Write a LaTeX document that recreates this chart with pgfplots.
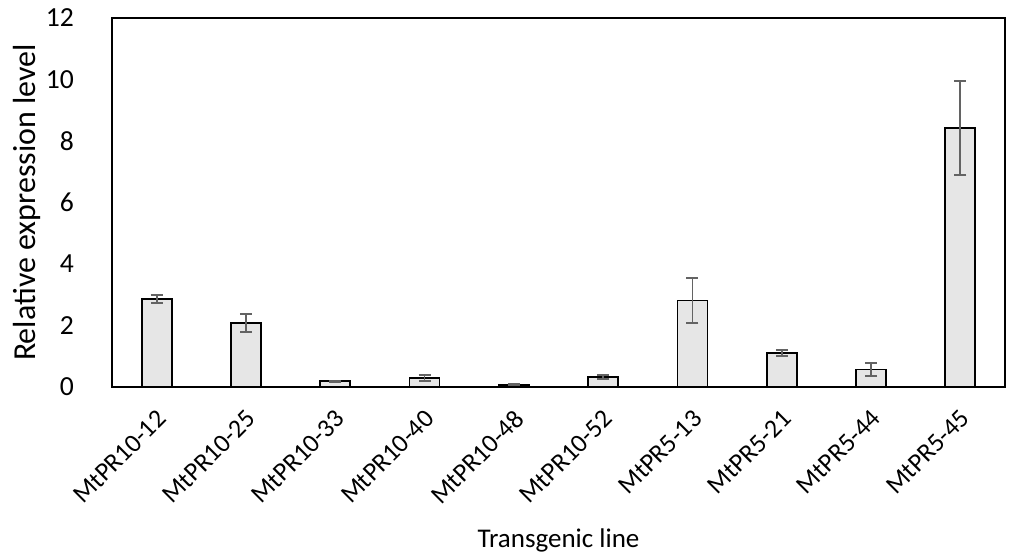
\documentclass[border=0pt]{standalone}
\usepackage{pgfplots}
\pgfplotsset{compat=1.18}
\usepackage{fontspec}
\setmainfont{Carlito}
\definecolor{barfill}{HTML}{E6E6E6}
\definecolor{errc}{HTML}{636363}
\begin{document}
\begin{tikzpicture}
\begin{axis}[
  name=ax,
  scale only axis,
  width=446.5pt, height=184.5pt,
  xmin=-0.5, xmax=9.5,
  ymin=0, ymax=12,
  ytick={0,2,...,12},
  xtick={0,...,9},
  xticklabels={MtPR10-12,MtPR10-25,MtPR10-33,MtPR10-40,MtPR10-48,MtPR10-52,MtPR5-13,MtPR5-21,MtPR5-44,MtPR5-45},
  x tick label style={xshift=-0.5pt, yshift=-10.5pt, rotate=45, anchor=north east, inner sep=0pt, font=\fontsize{13}{15}\selectfont},
  y tick label style={xshift=-15.5pt, font=\fontsize{13.8}{16}\selectfont},
  /pgf/number format/assume math mode=true,
  major tick length=0pt,
  axis line style={line width=1pt},
  xlabel={Transgenic line},
  ylabel={Relative expression level},
  xlabel style={at={(axis description cs:0.5,-0.4146)}, anchor=center, font=\fontsize{13.5}{15}\selectfont},
  ylabel style={at={(axis description cs:-0.0952,0.5)}, anchor=center, font=\fontsize{16}{18}\selectfont},
  clip=false,
]
\addplot[ybar, bar width=15pt, fill=barfill, draw=black, line width=0.9pt,
  error bars/.cd, y dir=both, y explicit,
  error bar style={color=errc, line width=0.9pt},
  error mark options={rotate=90, mark size=3pt, line width=0.9pt, color=errc}]
coordinates {
 (0,2.86) +- (0,0.12)
 (1,2.08) +- (0,0.30)
 (2,0.19) +- (0,0.02)
 (3,0.29) +- (0,0.10)
 (4,0.07) +- (0,0.02)
 (5,0.32) +- (0,0.06)
 (6,2.81) +- (0,0.74)
 (7,1.10) +- (0,0.10)
 (8,0.57) +- (0,0.22)
 (9,8.42) +- (0,1.52)
};
\end{axis}
\pgfresetboundingbox
\path ([shift={(-56pt,-86.5pt)}]ax.south west) rectangle ([shift={(5.5pt,9pt)}]ax.north east);
\end{tikzpicture}
\end{document}
